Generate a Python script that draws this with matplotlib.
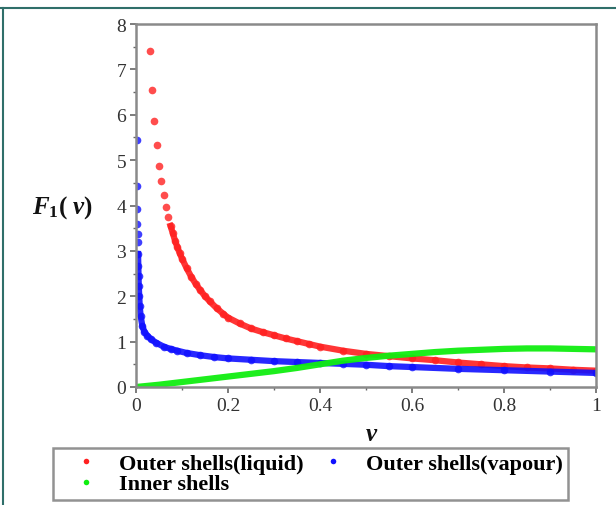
import numpy as np
import matplotlib.pyplot as plt
from matplotlib.lines import Line2D

# values
liquid_v = [0.03, 0.035, 0.04, 0.045, 0.05, 0.055, 0.06, 0.065, 0.07, 0.075, 0.08, 0.085, 0.09,
            0.095, 0.1, 0.11, 0.12, 0.13, 0.14, 0.15, 0.16, 0.175, 0.19, 0.2, 0.225, 0.25,
            0.275, 0.3, 0.325, 0.35, 0.375, 0.4, 0.45, 0.5, 0.55, 0.6,
            0.65, 0.7, 0.75, 0.8, 0.85, 0.9, 0.95, 1.0]
liquid_F = [7.40, 6.55, 5.87, 5.33, 4.88, 4.54, 4.23, 3.96, 3.74, 3.55, 3.39, 3.22, 3.08,
            2.95, 2.83, 2.62, 2.43, 2.27, 2.13, 2.00, 1.89, 1.74, 1.61, 1.53, 1.40, 1.29,
            1.21, 1.14, 1.07, 1.01, 0.95, 0.89, 0.80, 0.73, 0.68, 0.63,
            0.59, 0.54, 0.50, 0.46, 0.43, 0.41, 0.38, 0.36]

vapour_v = [0.0015, 0.002, 0.0025, 0.003, 0.0035, 0.004, 0.0045, 0.005, 0.0055, 0.006, 0.007,
            0.008, 0.010, 0.0137, 0.018, 0.0246, 0.033, 0.043, 0.06, 0.075, 0.09, 0.11,
            0.14, 0.17, 0.2, 0.25, 0.3, 0.35, 0.4, 0.45, 0.5, 0.55, 0.6, 0.7, 0.8, 0.9, 1.0]
vapour_F = [5.45, 4.43, 3.92, 3.60, 3.38, 3.19, 2.93, 2.67, 2.45, 2.23, 2.01,
            1.79, 1.57, 1.35, 1.22, 1.13, 1.05, 0.98, 0.89, 0.84, 0.80, 0.75,
            0.70, 0.66, 0.63, 0.60, 0.57, 0.55, 0.53, 0.51, 0.49, 0.46, 0.44, 0.40, 0.37, 0.34, 0.31]

inner_v = [0.0, 0.05, 0.1, 0.15, 0.2, 0.25, 0.3, 0.35, 0.4, 0.45, 0.5, 0.55, 0.6, 0.65,
           0.7, 0.75, 0.8, 0.85, 0.9, 0.95, 1.0]
inner_F = [0.0, 0.05, 0.11, 0.17, 0.23, 0.29, 0.35, 0.42, 0.50, 0.58, 0.64, 0.69, 0.73, 0.77,
           0.80, 0.82, 0.84, 0.85, 0.85, 0.84, 0.83]

labels = ["Outer shells(liquid)", "Outer shells(vapour)", "Inner shells"]
colors = ["#ff2020", "#1010ff", "#10ee10"]

plt.rcParams['font.family'] = ['Liberation Serif', 'DejaVu Serif']
plt.rcParams['mathtext.fontset'] = 'custom'
plt.rcParams['mathtext.it'] = 'Liberation Serif:italic:bold'
plt.rcParams['mathtext.rm'] = 'Liberation Serif:bold'

W, H = 616, 506
fig = plt.figure(figsize=(W / 100, H / 100), dpi=100)
ax = fig.add_axes([136 / W, 1 - 388 / H, 460 / W, 363 / H])

# sparse dots + dense band
lv, lF = np.array(liquid_v), np.array(liquid_F)
vv, vF = np.array(vapour_v), np.array(vapour_F)
ax.plot(lv, lF, 'o', color=colors[0], ms=5.5, mew=0, alpha=0.8)
ax.plot(lv[lv >= 0.075], lF[lv >= 0.075], '-', color=colors[0], lw=4.5, alpha=0.9)
ax.plot(vv, vF, 'o', color=colors[1], ms=5.5, mew=0, alpha=0.8)
ax.plot(vv[vv >= 0.0045], vF[vv >= 0.0045], '-', color=colors[1], lw=4.5, alpha=0.9)
ax.plot(inner_v, inner_F, '-', color=colors[2], lw=4.5, alpha=0.95)

ax.set_xlim(0, 1)
ax.set_ylim(0, 8)
ax.set_xticks([0, 0.2, 0.4, 0.6, 0.8, 1])
ax.set_xticklabels(["0", "0.2", "0.4", "0.6", "0.8", "1"])
ax.set_xticks(np.arange(0.1, 1, 0.2), minor=True)
ax.set_yticks(range(0, 9))
ax.set_yticks(np.arange(0.5, 8, 1), minor=True)
ax.tick_params(which='major', direction='out', length=4, width=1.2, color='#666666',
               labelsize=14, labelcolor='#333333', pad=3)
ax.tick_params(which='minor', direction='out', length=2.5, width=1.0, color='#666666')
for s in ax.spines.values():
    s.set_color('#8a8a8a')
    s.set_linewidth(1.8)

fig.text(63 / W, 1 - 208 / H, r"$F_1(\ v)$", fontsize=18, ha='center', va='center', color='#111111')
fig.text(372 / W, 1 - 435 / H, r"$v$", fontsize=18, ha='center', va='center', color='#111111')

handles = [Line2D([], [], ls='', marker='o', ms=4, mew=0, color=colors[0]),
           Line2D([], [], ls='', marker='o', ms=4, mew=0, color=colors[2]),
           Line2D([], [], ls='', marker='o', ms=4, mew=0, color=colors[1])]
leg = fig.legend(handles, [labels[0], labels[2], labels[1]], ncol=2,
                 bbox_to_anchor=(53 / W, 1 - 501 / H, 515 / W, 49 / H), loc='lower left',
                 mode='expand', borderaxespad=0, fancybox=False, frameon=True,
                 prop={'weight': 'bold', 'size': 16}, handlelength=2.5, handletextpad=0.2,
                 borderpad=0.25, labelspacing=0.0, columnspacing=0.5)
leg.get_frame().set_edgecolor('#777777')
leg.get_frame().set_linewidth(1.8)

# teal frame at top and left of the picture
fig.add_artist(Line2D([0, 1], [1 - 9 / H, 1 - 9 / H], color='#2f6f6a', lw=1.5))
fig.add_artist(Line2D([3 / W, 3 / W], [0, 1 - 9 / H], color='#2f6f6a', lw=1.5))

fig.savefig("out.png", dpi=100)
